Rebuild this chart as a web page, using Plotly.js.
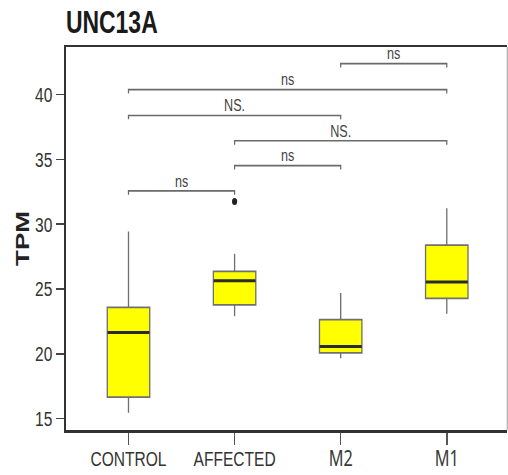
<!DOCTYPE html>
<html>
<head>
<meta charset="utf-8">
<script src="https://cdn.plot.ly/plotly-3.0.1.min.js"></script>
<style>
html,body{margin:0;padding:0;background:#fff;overflow:hidden;}
#wrap{width:508px;height:475px;overflow:hidden;}
#chart{width:686px;height:475px;transform:scaleX(0.7405);transform-origin:0 0;}
</style>
</head>
<body>
<div id="wrap"><div id="chart"></div></div>
<script>
// ---- data ----
const categories = ["CONTROL", "AFFECTED", "M2", "M1"];
const tickLabels = ["CONTROL", "AFFECTED", "M2", "M1"];
const lowerWhisker = [15.46, 22.9, 19.66, 23.1];
const q1Values = [16.66, 23.77, 20.08, 24.28];
const medianValues = [21.64, 25.64, 20.56, 25.54];
const q3Values = [23.59, 26.36, 22.64, 28.38];
const upperWhisker = [29.43, 27.72, 24.69, 31.23];
const outlierCategory = ["AFFECTED"];
const outlierValues = [31.74];
// significance comparisons
const compareFrom = ["CONTROL", "AFFECTED", "AFFECTED", "CONTROL", "CONTROL", "M2"];
const compareTo = ["AFFECTED", "M2", "M1", "M2", "M1", "M1"];
const compareHeight = [32.56, 34.51, 36.43, 38.38, 40.38, 42.38];
const compareLabel = ["ns", "ns", "NS.", "NS.", "ns", "ns"];

const SANS = "Liberation Sans, Arial, sans-serif";
const DROP = 0.3;

const traces = [];
traces.push({
  type: "box",
  x: categories,
  q1: q1Values,
  median: medianValues,
  q3: q3Values,
  lowerfence: lowerWhisker,
  upperfence: upperWhisker,
  fillcolor: "#ffff00",
  line: {color: "#707070", width: 1.8},
  whiskerwidth: 0,
  width: 0.4,
  boxpoints: false,
  hoverinfo: "skip",
  showlegend: false
});
// thick median bars
traces.push({
  type: "scatter",
  mode: "markers",
  x: categories,
  y: medianValues,
  marker: {symbol: "line-ew", size: 40.5, line: {color: "#2b2b2b", width: 3}},
  hoverinfo: "skip",
  showlegend: false
});
// outlier
traces.push({
  type: "scatter",
  mode: "markers",
  x: outlierCategory,
  y: outlierValues,
  marker: {color: "#222", size: 7},
  hoverinfo: "skip",
  showlegend: false
});
// brackets
const idx = c => categories.indexOf(c);
for (let k = 0; k < compareFrom.length; k++) {
  const a = idx(compareFrom[k]), b = idx(compareTo[k]), h = compareHeight[k];
  traces.push({
    type: "scatter",
    mode: "lines",
    x: [a, a, b, b],
    y: [h - DROP, h, h, h - DROP],
    xaxis: "x2",
    line: {color: "#6a6a6a", width: 1.7},
    hoverinfo: "skip",
    showlegend: false
  });
  traces.push({
    type: "scatter",
    mode: "text",
    x: [(a + b) / 2],
    y: [h],
    xaxis: "x2",
    text: [compareLabel[k]],
    textposition: "top center",
    textfont: {family: SANS, size: 17, color: "#444"},
    hoverinfo: "skip",
    showlegend: false
  });
}

const tickText = tickLabels.map((t, i) => i < 2 ? t :
  '<span style="font-family:Noto Sans, Open Sans, sans-serif;font-size:22px;fill:#3a3a3a;">' + t + '</span>');

const xr = [-0.59, 3.57];
const layout = {
  width: 686,
  height: 475,
  margin: {l: 89, r: 1, t: 47, b: 45},
  paper_bgcolor: "#fff",
  plot_bgcolor: "#fff",
  title: {
    text: "<b>UNC13A</b>",
    font: {family: SANS, size: 31, color: "#1a1a1a"},
    x: 0, xref: "paper", xanchor: "left",
    y: 1 - 22 / 475, yref: "container", yanchor: "middle"
  },
  xaxis: {
    type: "category",
    range: xr,
    tickvals: categories,
    ticktext: tickText,
    showgrid: false,
    zeroline: false,
    showline: true,
    linecolor: "#333",
    linewidth: 2.5,
    mirror: true,
    ticks: "outside",
    ticklen: 12,
    tickwidth: 2,
    tickcolor: "#555",
    ticklabelstandoff: -4,
    tickfont: {family: SANS, size: 21, color: "#333"},
    fixedrange: true
  },
  xaxis2: {
    overlaying: "x",
    range: xr,
    visible: false,
    fixedrange: true
  },
  yaxis: {
    range: [14.13, 43.66],
    tickvals: [15, 20, 25, 30, 35, 40],
    showgrid: false,
    zeroline: false,
    showline: true,
    linecolor: "#333",
    linewidth: 3,
    ticks: "outside",
    ticklen: 11,
    tickwidth: 1.5,
    tickcolor: "#444",
    tickfont: {family: SANS, size: 21, color: "#333"},
    title: {text: "<b>TPM</b>", font: {family: SANS, size: 26, color: "#222"}, standoff: 0},
    fixedrange: true
  },
  shapes: [{
    type: "line", xref: "paper", yref: "paper",
    x0: 1, x1: 1, y0: 0, y1: 1,
    line: {color: "#999", width: 1.3}
  }]
};

Plotly.newPlot("chart", traces, layout, {displayModeBar: false, staticPlot: true});
</script>
</body>
</html>
